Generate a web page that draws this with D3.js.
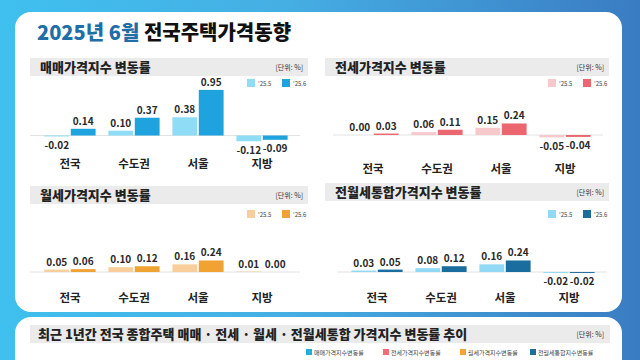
<!DOCTYPE html>
<html><head><meta charset="utf-8">
<script src="https://cdn.jsdelivr.net/npm/d3@7"></script>
<style>
html,body{margin:0;padding:0;background:#fff;}
svg{display:block;font-family:"Noto Sans CJK KR","Noto Sans",sans-serif;}
</style></head>
<body><svg id="c" width="640" height="360"></svg>
<script>
const categories = ["전국", "수도권", "서울", "지방"];
const seriesNames = ["'25.5", "'25.6"];
const saleMay = [-0.02, 0.10, 0.38, -0.12];
const saleJun = [0.14, 0.37, 0.95, -0.09];
const jeonseMay = [0.00, 0.06, 0.15, -0.05];
const jeonseJun = [0.03, 0.11, 0.24, -0.04];
const rentMay = [0.05, 0.10, 0.16, 0.01];
const rentJun = [0.06, 0.12, 0.24, 0.00];
const totalMay = [0.03, 0.08, 0.16, -0.02];
const totalJun = [0.05, 0.12, 0.24, -0.02];
const panelTitles = ["매매가격지수 변동률", "전세가격지수 변동률", "월세가격지수 변동률", "전월세통합가격지수 변동률"];
const trendLegend = ["매매가격지수변동률", "전세가격지수변동률", "월세가격지수변동률", "전월세통합지수변동률"];

const svg = d3.select("#c");
const defs = svg.append("defs");
const g = defs.append("linearGradient").attr("id","bg").attr("x1","0").attr("x2","1").attr("y1","0").attr("y2","0");
g.append("stop").attr("offset","0").attr("stop-color","#3fc0ee");
g.append("stop").attr("offset","0.45").attr("stop-color","#45aee3");
g.append("stop").attr("offset","1").attr("stop-color","#3a7cc2");
svg.append("rect").attr("width",640).attr("height",360).attr("fill","url(#bg)");

// cards
svg.append("rect").attr("x",15).attr("y",12).attr("width",607).attr("height",300).attr("rx",16).attr("fill","#fff");
svg.append("rect").attr("x",15).attr("y",317).attr("width",607).attr("height",80).attr("rx",16).attr("fill","#fff");

// title
const t = svg.append("text").attr("x",37).attr("y",40).attr("font-size",20).attr("font-weight",900);
t.append("tspan").attr("fill","#1f6ea6").text("2025년 6월 ");
t.append("tspan").attr("fill","#111").text("전국주택가격동향");

const panels = [
  {title:panelTitles[0], a:saleMay, b:saleJun, c1:"#8edcf6", c2:"#1fa3df", hx:30, hw:278, hy:58, base:135.5, range:[38,294], legX:247, legY:83, catY:168},
  {title:panelTitles[1], a:jeonseMay, b:jeonseJun, c1:"#f7c9cd", c2:"#ec6670", hx:325, hw:284, hy:58, base:135, range:[341,597], legX:548, legY:83, catY:173},
  {title:panelTitles[2], a:rentMay, b:rentJun, c1:"#f8cf9c", c2:"#f0a232", hx:30, hw:278, hy:186, base:272, range:[38,294], legX:247, legY:214, catY:302},
  {title:panelTitles[3], a:totalMay, b:totalJun, c1:"#92d9f5", c2:"#196d9f", hx:325, hw:284, hy:183, base:272, range:[345,601], legX:548, legY:214, catY:302}
];

const yScale = d3.scaleLinear().domain([0,1]).range([0,48]);

panels.forEach(p=>{
  svg.append("rect").attr("x",p.hx).attr("y",p.hy).attr("width",p.hw).attr("height",18).attr("fill","#ebebeb");
  svg.append("text").attr("x",p.hx+10).attr("y",p.hy+13.5).attr("font-size",13).attr("font-weight",900).attr("fill","#222").text(p.title);
  svg.append("text").attr("x",p.hx+p.hw-5).attr("y",p.hy+12).attr("text-anchor","end").attr("font-size",7).attr("fill","#333").text("[단위: %]");
  // legend
  [p.c1,p.c2].forEach((c,i)=>{
    const lx = p.legX + i*35;
    svg.append("rect").attr("x",lx).attr("y",p.legY-4).attr("width",8).attr("height",8).attr("fill",c);
    svg.append("text").attr("x",lx+11).attr("y",p.legY+2.5).attr("font-size",6).attr("fill","#444").text(seriesNames[i]);
  });
  const x0 = d3.scaleBand().domain(categories).range(p.range).paddingInner(0.2).paddingOuter(0.1);
  const x1 = d3.scaleBand().domain(seriesNames).range([0,x0.bandwidth()]).paddingInner(0.06);
  const y = v => p.base - yScale(v);
  // baseline
  svg.append("line").attr("x1",p.range[0]-8).attr("x2",p.range[1]+6).attr("y1",p.base).attr("y2",p.base).attr("stroke","#e2e2e2").attr("stroke-width",1);
  categories.forEach((cat,i)=>{
    [p.a[i],p.b[i]].forEach((v,j)=>{
      const bx = x0(cat)+x1(seriesNames[j]);
      const top = Math.min(y(v),p.base), h = Math.abs(y(v)-p.base);
      svg.append("rect").attr("x",bx).attr("y",top).attr("width",x1.bandwidth()).attr("height",Math.max(h,0.01)).attr("fill",j?p.c2:p.c1);
      const ly = v<0 ? p.base + h + 12.5 : top - 4;
      svg.append("text").attr("x",bx+x1.bandwidth()/2).attr("y",ly).attr("text-anchor","middle").attr("font-size",10).attr("font-weight",700).attr("fill","#2a2a2a").text(v.toFixed(2));
    });
    svg.append("text").attr("x",x0(cat)+x0.bandwidth()/2).attr("y",p.catY).attr("text-anchor","middle").attr("font-size",11.5).attr("font-weight",700).attr("fill","#222").text(cat);
  });
});

// bottom card header
svg.append("rect").attr("x",30).attr("y",325).attr("width",580).attr("height",18).attr("fill","#ebebeb");
svg.append("text").attr("x",38).attr("y",339).attr("font-size",13).attr("font-weight",900).attr("fill","#222").text("최근 1년간 전국 종합주택 매매 · 전세 · 월세 · 전월세통합 가격지수 변동률 추이");
svg.append("text").attr("x",604).attr("y",337).attr("text-anchor","end").attr("font-size",7).attr("fill","#333").text("[단위: %]");
const legCols = ["#29a9e1","#ee6d77","#f1a536","#1a6ea0"];
const legXs = [306, 383, 460, 530];
trendLegend.forEach((s,i)=>{
  svg.append("rect").attr("x",legXs[i]).attr("y",349).attr("width",6).attr("height",6).attr("fill",legCols[i]);
  svg.append("text").attr("x",legXs[i]+8).attr("y",354.5).attr("font-size",6).attr("fill","#444").text(s);
});
</script></body></html>
